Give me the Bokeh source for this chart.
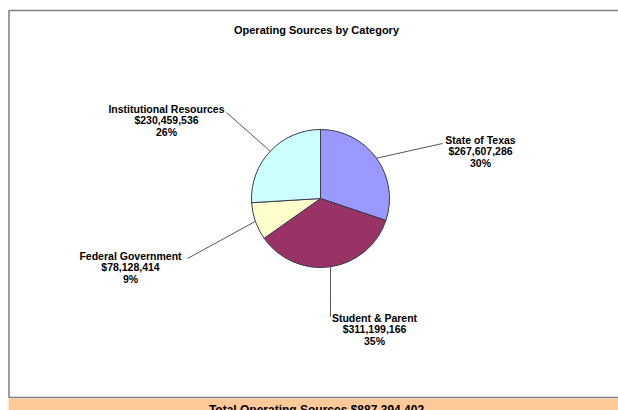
import math
from bokeh.plotting import figure
from bokeh.models import Range1d
from bokeh.core.properties import value
from bokeh.embed import file_html
from bokeh.resources import INLINE

# ---- data ----
categories = ["State of Texas", "Student & Parent", "Federal Government", "Institutional Resources"]
amounts = [267607286, 311199166, 78128414, 230459536]
colors = ["#9999FF", "#993366", "#FFFFCC", "#CCFFFF"]
title_text = "Operating Sources by Category"
footer_prefix = "Total Operating Sources "

# ---- layout (page pixel coordinates) ----
W, H = 618, 410
def X(px): return px
def Y(py): return H - py

cx, cy, r = 320, 198, 69
label_cx = [480, 374, 130, 166]
label_y1 = [139, 317, 255, 108]
line_gap = 11.8
leader_end = [(442, 143), (330, 316), (187, 258), (226, 112)]

FONT = value("Liberation Sans")

p = figure(width=W, height=H, output_backend="svg", toolbar_location=None,
           x_range=Range1d(0, W), y_range=Range1d(0, H), min_border=0)
p.axis.visible = False
p.grid.visible = False
p.outline_line_color = None
p.background_fill_color = "white"
p.border_fill_color = "white"

# frame border
p.quad(left=[X(8.5)], right=[X(640)], top=[Y(10)], bottom=[Y(397)],
       fill_color="white", line_color="#7f7f7f", line_width=1.5)

# footer band
p.quad(left=[X(8)], right=[X(640)], top=[Y(398)], bottom=[Y(420)],
       fill_color="#FDC998", line_color=None)
total = sum(amounts)
p.text(x=[X(316)], y=[Y(409.5)], text=[footer_prefix + "${:,}".format(total)],
       text_font=FONT, text_font_style="bold", text_font_size="12px",
       text_align="center", text_baseline="alphabetic", text_color="black")

# title
p.text(x=[X(316)], y=[Y(29)], text=[title_text], text_font=FONT,
       text_font_style="bold", text_font_size="11px", text_align="center",
       text_baseline="middle", text_color="black")

# pie wedges (clockwise from 12 o'clock)
starts, ends, mids = [], [], []
cum = 0.0
for a in amounts:
    f0 = cum / total
    cum += a
    f1 = cum / total
    starts.append(math.pi / 2 - 2 * math.pi * f0)
    ends.append(math.pi / 2 - 2 * math.pi * f1)
    mids.append(math.pi / 2 - 2 * math.pi * (f0 + f1) / 2)

p.wedge(x=[X(cx)] * 4, y=[Y(cy)] * 4, radius=r, radius_units="screen",
        start_angle=starts, end_angle=ends, direction="clock",
        fill_color=colors, line_color="#3a3a50", line_width=1)

# leader lines and labels
for i, name in enumerate(categories):
    ex = cx + r * math.cos(mids[i])
    ey = cy - r * math.sin(mids[i])
    lx, ly = leader_end[i]
    p.line(x=[X(ex), X(lx)], y=[Y(ey), Y(ly)], line_color="#555555", line_width=1)
    pct = round(amounts[i] / total * 100)
    lines = [name, "${:,}".format(amounts[i]), "{}%".format(pct)]
    p.text(x=[X(label_cx[i])] * 3,
           y=[Y(label_y1[i] + k * line_gap) for k in range(3)],
           text=lines, text_font=FONT, text_font_style="bold",
           text_font_size="10.5px", text_align="center", text_baseline="middle",
           text_color="black")

open("out.html", "w").write(file_html(p, INLINE))
